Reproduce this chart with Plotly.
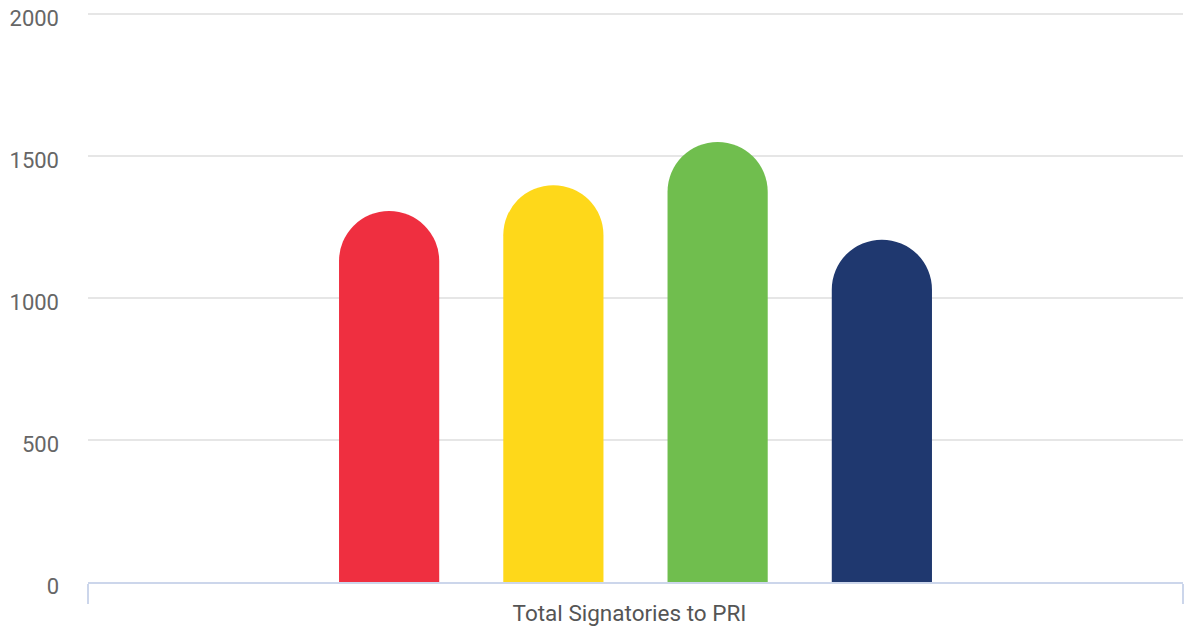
import plotly.graph_objects as go

categories = ["Total Signatories to PRI"]
series_names = ["Series 1", "Series 2", "Series 3", "Series 4"]
series_values = [[1306], [1397], [1549], [1205]]
series_colors = ["#ef2f40", "#fed81a", "#70be4e", "#1f386f"]
y_ticks = [0, 500, 1000, 1500, 2000]

fig = go.Figure()
for name, vals, col in zip(series_names, series_values, series_colors):
    fig.add_trace(go.Bar(
        x=categories, y=vals, name=name,
        marker=dict(color=col, line=dict(width=0), cornerradius="50%"),
        showlegend=False,
    ))

fig.update_layout(
    width=1184, height=630,
    margin=dict(l=88, r=1, t=11, b=48, autoexpand=False),
    paper_bgcolor="white", plot_bgcolor="white",
    barmode="group", bargap=0.40, bargroupgap=0.39,
    font=dict(family="Roboto, Inter, sans-serif", color="#666666"),
)
fig.update_xaxes(
    type="category", range=[-0.5, 0.5], automargin=False,
    showline=True, linecolor="#ccd6eb", linewidth=2,
    ticks="outside", tickson="boundaries", ticklen=20, tickwidth=2, tickcolor="#ccd6eb",
    ticklabelstandoff=10, ticklabelshift=-6,
    showgrid=False, tickfont=dict(size=22.5, color="#555555"),
)
fig.update_yaxes(
    range=[0, 2010], tickvals=y_ticks, automargin=False,
    showgrid=True, gridcolor="#e6e6e6", gridwidth=2,
    zeroline=False, showline=False,
    ticks="", ticklabelstandoff=28, ticklabelshift=4, ticklabeloverflow="allow",
    tickfont=dict(size=22, color="#666666"),
)
fig.write_html(
    "out.html",
    config={"displayModeBar": False},
    post_script="document.body.style.margin='0';document.body.style.overflow='hidden';",
)
